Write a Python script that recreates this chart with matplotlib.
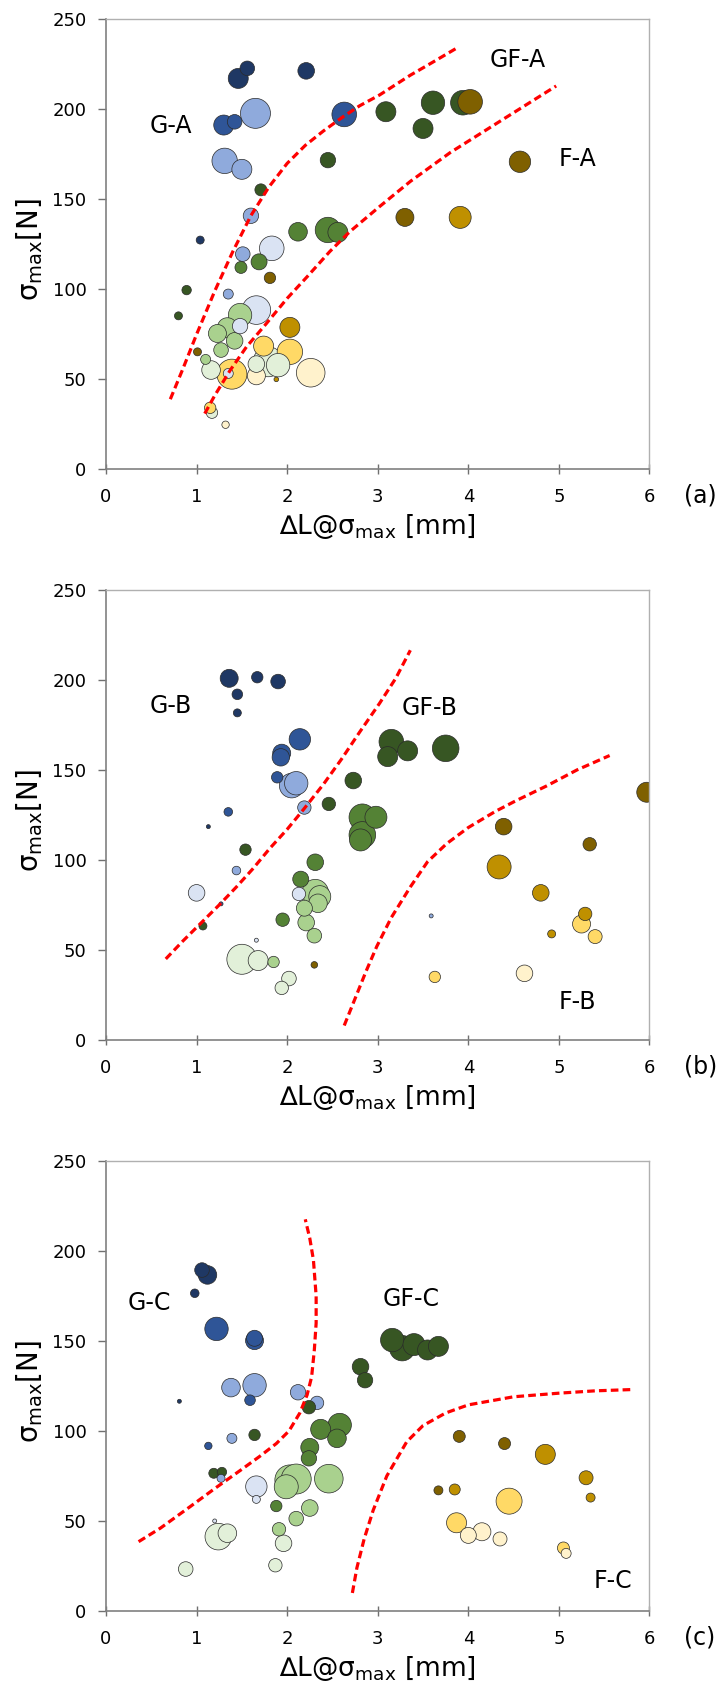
import numpy as np
import matplotlib.pyplot as plt

# colour key for the bubble groups
colors = {
    "N": "#1F3864", "MB": "#2F5597", "LB": "#8FAADC", "VLB": "#DAE3F3",
    "DG": "#375623", "MG": "#548235", "LG": "#A9D18E", "VLG": "#E2F0D9",
    "DB": "#7F6000", "GO": "#BF9000", "YE": "#FFD966", "VLY": "#FFF2CC",
}

# ---- panel (a) ----
a_x = [1.56, 1.46, 2.21, 1.04,
       1.42, 1.30, 2.63,
       1.65, 1.31, 1.50, 1.60, 1.51, 1.35,
       1.83, 1.66, 1.48, 1.35,
       3.09, 2.45, 1.71, 3.61, 3.94, 3.50, 0.89, 0.80,
       2.12, 2.45, 2.56, 1.49, 1.69,
       1.48, 1.34, 1.23, 1.42, 1.27, 1.10,
       1.79, 1.90, 1.66, 1.16, 1.17,
       3.30, 4.02, 4.57, 1.81, 1.01,
       3.91, 2.03, 1.88,
       1.74, 2.03, 1.39, 1.15,
       1.66, 2.26, 1.32]
a_y = [222.8, 217.2, 221.4, 127.4,
       193.1, 191.3, 197.2,
       197.8, 171.4, 166.7, 140.9, 119.6, 97.4,
       122.8, 88.5, 79.6, 53.3,
       198.7, 171.8, 155.3, 203.7, 203.7, 189.4, 99.6, 85.3,
       132.0, 133.0, 131.7, 112.2, 115.3,
       85.7, 78.7, 75.5, 71.4, 66.3, 61.1,
       59.8, 57.9, 58.5, 55.2, 31.5,
       140.0, 204.2, 170.9, 106.4, 65.3,
       140.0, 78.9, 50.0,
       68.5, 65.3, 52.9, 34.2,
       52.0, 53.7, 24.8]
a_r = [7.3, 10, 8.3, 4,
       7.3, 10, 12.3,
       15, 12.7, 10, 7.7, 7.3, 5,
       12.3, 14.3, 7.7, 5,
       10, 7.7, 6, 11.7, 12.3, 10, 4.7, 4,
       9.3, 12.7, 10, 6, 8,
       11.7, 10, 9, 8.3, 7.3, 5,
       15, 11.7, 8.3, 9.3, 5.7,
       9, 12.3, 10.7, 5.7, 4,
       11, 10, 2.3,
       10, 12.7, 15, 5.7,
       9, 14.3, 3.7]
a_g = (["N"] * 4 + ["MB"] * 3 + ["LB"] * 6 + ["VLB"] * 4 + ["DG"] * 8 + ["MG"] * 5
       + ["LG"] * 6 + ["VLG"] * 5 + ["DB"] * 5 + ["GO"] * 3 + ["YE"] * 4 + ["VLY"] * 3)

# ---- panel (b) ----
b_x = [1.36, 1.67, 1.90, 1.45, 1.45, 1.13,
       2.14, 1.93, 1.94, 1.89, 1.35, 1.27,
       2.10, 2.05, 2.19, 1.44, 3.59,
       1.00, 2.13, 1.66,
       3.15, 3.11, 3.33, 3.75, 2.73, 2.46, 1.54, 1.07,
       2.83, 2.98, 2.83, 2.81, 2.31, 2.15, 1.95,
       2.31, 2.36, 2.34, 2.19, 2.21, 2.30, 1.85,
       1.50, 1.68, 2.02, 1.94,
       5.97, 4.39, 5.34, 2.30,
       4.34, 4.80, 5.29, 4.92,
       5.25, 5.40, 3.63,
       4.62]
b_y = [200.9, 201.5, 199.1, 192.0, 181.7, 118.5,
       167.0, 157.0, 159.3, 145.9, 126.7, 75.6,
       142.6, 141.3, 129.1, 94.1, 68.9,
       81.7, 81.1, 55.4,
       165.7, 157.4, 160.6, 162.0, 144.1, 131.1, 105.7, 63.3,
       123.7, 123.7, 113.9, 111.1, 98.7, 89.3, 66.8,
       81.8, 79.6, 75.9, 73.2, 65.2, 57.9, 43.3,
       44.8, 44.1, 34.1, 28.9,
       137.6, 118.5, 108.7, 41.7,
       96.1, 81.7, 70.0, 58.9,
       64.4, 57.4, 35.0,
       37.0]
b_r = [9, 5.7, 7.3, 5.3, 4, 2,
       10.7, 8.7, 9, 5.7, 4.3, 2,
       11.7, 12.3, 6.7, 4.3, 2,
       8.3, 6.7, 2,
       12.3, 10, 10, 13.3, 8.3, 6.7, 5.7, 4,
       13.3, 11, 13.3, 11, 8.3, 8, 6.7,
       13.3, 11, 9.3, 8, 8.3, 7.3, 5.7,
       15, 10, 7.3, 6.7,
       10, 8.3, 6.7, 3.3,
       12, 8.3, 6.7, 4,
       9, 7, 5.7,
       8.3]
b_g = (["N"] * 6 + ["MB"] * 6 + ["LB"] * 5 + ["VLB"] * 3 + ["DG"] * 8 + ["MG"] * 7
       + ["LG"] * 7 + ["VLG"] * 4 + ["DB"] * 4 + ["GO"] * 4 + ["YE"] * 3 + ["VLY"] * 1)

# ---- panel (c) ----
c_x = [1.06, 1.12, 0.98, 0.81,
       1.22, 1.64, 1.64, 1.59, 1.13,
       1.38, 1.64, 2.12, 2.33, 1.39, 1.27,
       1.66, 1.66, 1.20,
       3.16, 3.27, 3.40, 3.55, 3.67, 2.81, 2.86, 2.24, 1.64, 1.19, 1.28,
       2.37, 2.58, 2.55, 2.25, 2.24, 1.88,
       2.03, 2.10, 1.99, 2.46, 2.25, 2.10, 1.91,
       1.24, 1.34, 1.96, 0.88, 1.87,
       3.90, 4.40, 3.67,
       4.85, 5.30, 5.35, 3.85,
       4.45, 3.87, 5.05,
       4.00, 4.15, 4.35, 5.08]
c_y = [189.4, 186.7, 176.5, 116.5,
       156.7, 151.5, 150.2, 117.1, 91.7,
       124.1, 125.4, 121.5, 115.6, 95.9, 73.7,
       69.1, 62.0, 50.0,
       150.5, 146.0, 148.0, 145.0, 147.0, 135.7, 128.2, 113.2, 97.8, 76.5, 77.2,
       100.9, 103.3, 95.9, 90.9, 84.8, 58.3,
       72.8, 73.3, 69.0, 73.5, 57.2, 51.3, 45.4,
       41.3, 43.2, 37.6, 23.3, 25.4,
       97.0, 93.0, 67.0,
       87.0, 74.0, 63.0, 67.5,
       61.0, 49.0, 35.0,
       42.0, 44.0, 40.0, 32.0]
c_r = [7.3, 9.3, 4.3, 2,
       11.7, 8, 9, 5.3, 3.7,
       9.3, 11.7, 7.7, 6.7, 5, 4,
       10.7, 4, 2,
       11.7, 12.7, 11, 10, 10, 8.3, 7.7, 6.7, 5.7, 5, 4.7,
       10, 11.7, 9.3, 9, 7.7, 5.7,
       15, 15, 12, 14.3, 8.3, 7.3, 6.7,
       13.3, 9.3, 8.3, 7.3, 6.7,
       6, 6, 4.5,
       10, 7, 4.5, 5.5,
       13, 10, 6,
       8, 9, 7, 5]
c_g = (["N"] * 4 + ["MB"] * 5 + ["LB"] * 6 + ["VLB"] * 3 + ["DG"] * 11 + ["MG"] * 6
       + ["LG"] * 7 + ["VLG"] * 5 + ["DB"] * 3 + ["GO"] * 4 + ["YE"] * 3 + ["VLY"] * 4)

# boundary curves
a_up_x = [0.71, 0.85, 1.0, 1.2, 1.4, 1.6, 1.8, 2.0, 2.2, 2.4, 2.62, 2.8, 3.02, 3.36, 3.6, 3.87]
a_up_y = [39, 56, 75, 99, 121, 141, 157, 170, 180, 188, 196, 202, 208, 219, 226, 234]
a_lo_x = [1.09, 1.2, 1.37, 1.55, 1.77, 2.0, 2.22, 2.47, 2.69, 3.02, 3.36, 3.8, 4.4, 4.97]
a_lo_y = [31, 41, 55, 68, 81, 95, 107, 121, 132, 146, 160, 176, 195, 213]
b_up_x = [0.66, 0.85, 1.07, 1.25, 1.44, 1.62, 1.81, 2.0, 2.18, 2.4, 2.60, 2.8, 3.02, 3.2, 3.36]
b_up_y = [45, 55, 66, 75, 85, 95, 106.5, 117, 128, 142, 156, 171, 187, 201, 216.5]
b_lo_x = [2.63, 2.75, 2.87, 2.99, 3.15, 3.36, 3.55, 3.76, 4.0, 4.3, 4.53, 4.86, 5.2, 5.56]
b_lo_y = [8, 23, 38, 52, 68, 85, 99, 109, 118, 127, 133, 141, 150, 158]
c_l_x = [0.36, 0.6, 0.93, 1.2, 1.48, 1.7, 1.88, 2.02, 2.14, 2.22, 2.27, 2.30, 2.32, 2.32, 2.29, 2.25, 2.20]
c_l_y = [38.5, 46, 58, 68, 78, 86, 93, 100, 110, 120, 130, 145, 160, 175, 195, 207, 217.6]
c_r_x = [2.72, 2.77, 2.85, 2.95, 3.1, 3.32, 3.5, 3.75, 4.0, 4.5, 5.0, 5.4, 5.8]
c_r_y = [10, 24, 40, 56, 75, 94, 103, 110, 114.5, 119, 121, 122.3, 123]

panels = [
    ("(a)", a_x, a_y, a_r, a_g, [(a_up_x, a_up_y), (a_lo_x, a_lo_y)],
     [("G-A", 0.72, 190.7), ("GF-A", 4.55, 227.4), ("F-A", 5.2, 172.2)]),
    ("(b)", b_x, b_y, b_r, b_g, [(b_up_x, b_up_y), (b_lo_x, b_lo_y)],
     [("G-B", 0.72, 185.7), ("GF-B", 3.57, 184.6), ("F-B", 5.2, 21)]),
    ("(c)", c_x, c_y, c_r, c_g, [(c_l_x, c_l_y), (c_r_x, c_r_y)],
     [("G-C", 0.48, 171), ("GF-C", 3.37, 173.2), ("F-C", 5.6, 16.7)]),
]

tick_font = ["Liberation Sans Narrow", "DejaVu Sans"]

fig = plt.figure(figsize=(7.26, 16.86), dpi=100)
bottoms = [0.7216, 0.3832, 0.0445]

for (tag, xs, ys, rs, gs, curves, labels), bot in zip(panels, bottoms):
    ax = fig.add_axes([0.146, bot, 0.7486, 0.2669])
    xs, ys, rs = np.array(xs), np.array(ys), np.array(rs)
    order = np.argsort(-rs, kind="stable")
    ax.scatter(xs[order], ys[order], s=(1.44 * rs[order]) ** 2,
               c=[colors[gs[i]] for i in order],
               edgecolors="#2a2a2a", linewidths=0.5, zorder=2)
    for cx, cy in curves:
        ax.plot(cx, cy, color="#FF0000", lw=2.3, ls=(0, (2.4, 1.3)), zorder=3)
    for txt, lx, ly in labels:
        ax.text(lx, ly, txt, fontsize=17, ha="center", va="center", zorder=4)

    ax.set_xlim(0, 6)
    ax.set_ylim(0, 250)
    ax.set_xticks(range(0, 7))
    ax.set_yticks(range(0, 251, 50))
    ax.tick_params(axis="y", direction="out", length=6, width=1, colors="#707070",
                   labelcolor="black", pad=8)
    ax.tick_params(axis="x", direction="inout", length=7, width=1, colors="#707070",
                   labelcolor="black", pad=10)
    for lab in ax.get_xticklabels() + ax.get_yticklabels():
        lab.set_family(tick_font)
        lab.set_fontsize(13)
    for side in ["left", "bottom"]:
        ax.spines[side].set_color("#808080")
        ax.spines[side].set_linewidth(1.2)
    for side in ["top", "right"]:
        ax.spines[side].set_color("#B0B0B0")
        ax.spines[side].set_linewidth(1.0)

    ax.set_xlabel("\u2206L@\u03c3$_{\\rm max}$ [mm]", fontsize=19)
    ax.xaxis.set_label_coords(0.5, -0.128)
    ax.xaxis.label.set_va("center")
    ax.set_ylabel("\u03c3$_{\\rm max}$[N]", fontsize=20)
    ax.yaxis.set_label_coords(-0.14, 0.488)
    ax.yaxis.label.set_va("center")
    ax.text(1.0635, -0.059, tag, transform=ax.transAxes, fontsize=17,
            ha="left", va="center")

fig.savefig("out.png", dpi=100)
